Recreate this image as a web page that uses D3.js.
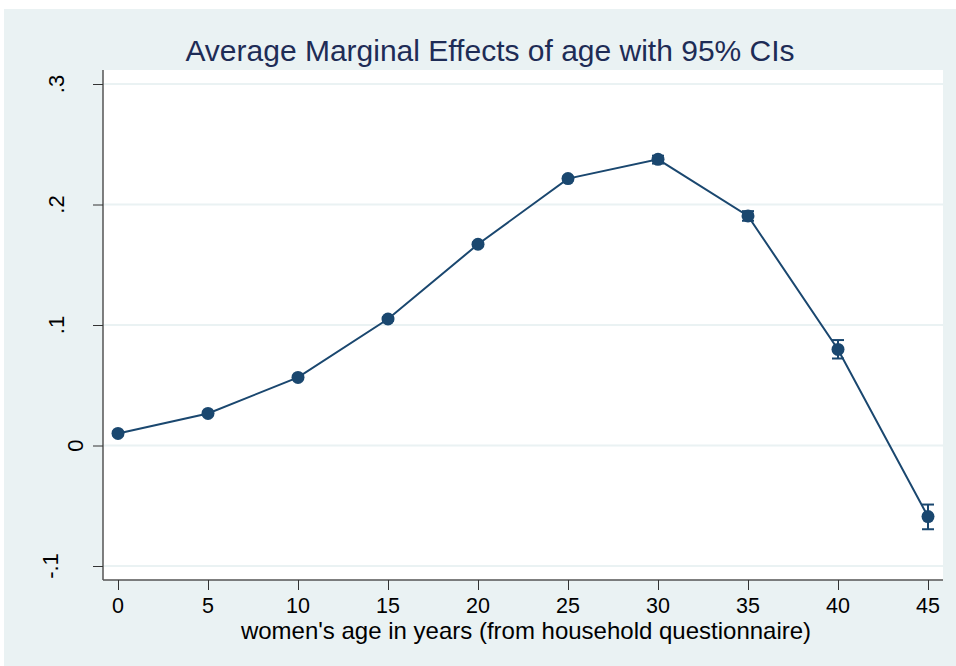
<!DOCTYPE html>
<html>
<head>
<meta charset="utf-8">
<script src="https://cdn.jsdelivr.net/npm/d3@7"></script>
<style>
  body { margin: 0; background: #fff; }
  text { font-family: "Liberation Sans", Arial, Helvetica, sans-serif; }
</style>
</head>
<body>
<svg id="chart"></svg>
<script>
// marginal effects
var ages = [0, 5, 10, 15, 20, 25, 30, 35, 40, 45];
var effects = [0.010, 0.0266, 0.0565, 0.105, 0.167, 0.2215, 0.2375, 0.1905, 0.0797, -0.059];
var ciLow = [0.0085, 0.0252, 0.0552, 0.1035, 0.1655, 0.2200, 0.2340, 0.1865, 0.0722, -0.0695];
var ciHigh = [0.0115, 0.0280, 0.0578, 0.1065, 0.1685, 0.2230, 0.2405, 0.1945, 0.0875, -0.0490];
var yTicks = [-0.1, 0, 0.1, 0.2, 0.3];
var yTickLabels = ["-.1", "0", ".1", ".2", ".3"];
var xTicks = [0, 5, 10, 15, 20, 25, 30, 35, 40, 45];

var width = 956,
    height = 666;
var plot = {left: 103, right: 943, top: 70, bottom: 580};
var navy = "#1a476f";

var svg = d3.select("#chart")
    .attr("width", width)
    .attr("height", height);

svg.append("rect")
    .attr("x", 4).attr("y", 9)
    .attr("width", width - 4).attr("height", height - 9)
    .attr("fill", "#eaf2f3");

svg.append("rect")
    .attr("x", plot.left).attr("y", plot.top)
    .attr("width", plot.right - plot.left).attr("height", plot.bottom - plot.top)
    .attr("fill", "#fff");

var x = d3.scaleLinear().domain([0, 45]).range([118, 928]);
var y = d3.scaleLinear().domain([-0.1, 0.3]).range([566, 84]);

// gridlines
svg.append("g").selectAll("line")
    .data(yTicks)
    .enter().append("line")
    .attr("x1", plot.left).attr("x2", plot.right)
    .attr("y1", function(d) { return y(d); })
    .attr("y2", function(d) { return y(d); })
    .attr("stroke", "#eaf2f3")
    .attr("stroke-width", 2);

// y axis
var yAxis = svg.append("g")
    .attr("transform", "translate(" + plot.left + ",0)")
    .call(d3.axisLeft(y).tickValues(yTicks).tickSize(10).tickFormat(""));
yAxis.select(".domain")
    .attr("d", "M0," + plot.top + "V" + plot.bottom)
    .attr("stroke", "#555").attr("stroke-width", 1.5);
yAxis.selectAll(".tick line").attr("stroke", "#333");

// stata puts the longer rotated labels further from the axis
function labelBase(s) {
    if (s.length == 1) return 83;
    if (s.length == 2) return 64;
    return 58;
}
svg.append("g").selectAll("text")
    .data(yTicks)
    .enter().append("text")
    .attr("transform", function(d, i) {
        return "translate(" + labelBase(yTickLabels[i]) + "," + y(d) + ") rotate(-90)";
    })
    .attr("text-anchor", "middle")
    .attr("font-size", 22)
    .attr("fill", "#000")
    .text(function(d, i) { return yTickLabels[i]; });

// x axis
var xAxis = svg.append("g")
    .attr("transform", "translate(0," + plot.bottom + ")")
    .call(d3.axisBottom(x).tickValues(xTicks).tickSize(10).tickFormat(""));
xAxis.select(".domain")
    .attr("d", "M" + plot.left + ",0H" + plot.right)
    .attr("stroke", "#555").attr("stroke-width", 1.5);
xAxis.selectAll(".tick line").attr("stroke", "#333");

svg.append("g").selectAll("text")
    .data(xTicks)
    .enter().append("text")
    .attr("x", function(d) { return x(d); })
    .attr("y", 613)
    .attr("text-anchor", "middle")
    .attr("font-size", 21.5)
    .attr("fill", "#000")
    .text(function(d) { return d; });

svg.append("text")
    .attr("x", 526)
    .attr("y", 639)
    .attr("text-anchor", "middle")
    .attr("font-size", 24)
    .attr("fill", "#000")
    .text("women's age in years (from household questionnaire)");

svg.append("text")
    .attr("x", 490)
    .attr("y", 61)
    .attr("text-anchor", "middle")
    .attr("font-size", 30)
    .attr("fill", "#1e2c56")
    .text("Average Marginal Effects of age with 95% CIs");

// data
var points = ages.map(function(a, i) {
    return {age: a, v: effects[i], lo: ciLow[i], hi: ciHigh[i]};
});

var line = d3.line()
    .x(function(d) { return x(d.age); })
    .y(function(d) { return y(d.v); });

svg.append("path")
    .datum(points)
    .attr("d", line)
    .attr("fill", "none")
    .attr("stroke", navy)
    .attr("stroke-width", 2);

var ci = svg.append("g").selectAll("g")
    .data(points)
    .enter().append("g")
    .attr("stroke", navy)
    .attr("stroke-width", 2);
ci.append("line")
    .attr("x1", function(d) { return x(d.age); })
    .attr("x2", function(d) { return x(d.age); })
    .attr("y1", function(d) { return y(d.lo); })
    .attr("y2", function(d) { return y(d.hi); });
ci.append("line")
    .attr("x1", function(d) { return x(d.age) - 6; })
    .attr("x2", function(d) { return x(d.age) + 6; })
    .attr("y1", function(d) { return y(d.lo); })
    .attr("y2", function(d) { return y(d.lo); });
ci.append("line")
    .attr("x1", function(d) { return x(d.age) - 6; })
    .attr("x2", function(d) { return x(d.age) + 6; })
    .attr("y1", function(d) { return y(d.hi); })
    .attr("y2", function(d) { return y(d.hi); });

svg.append("g").selectAll("circle")
    .data(points)
    .enter().append("circle")
    .attr("cx", function(d) { return x(d.age); })
    .attr("cy", function(d) { return y(d.v); })
    .attr("r", 6.5)
    .attr("fill", navy);
</script>
</body>
</html>
